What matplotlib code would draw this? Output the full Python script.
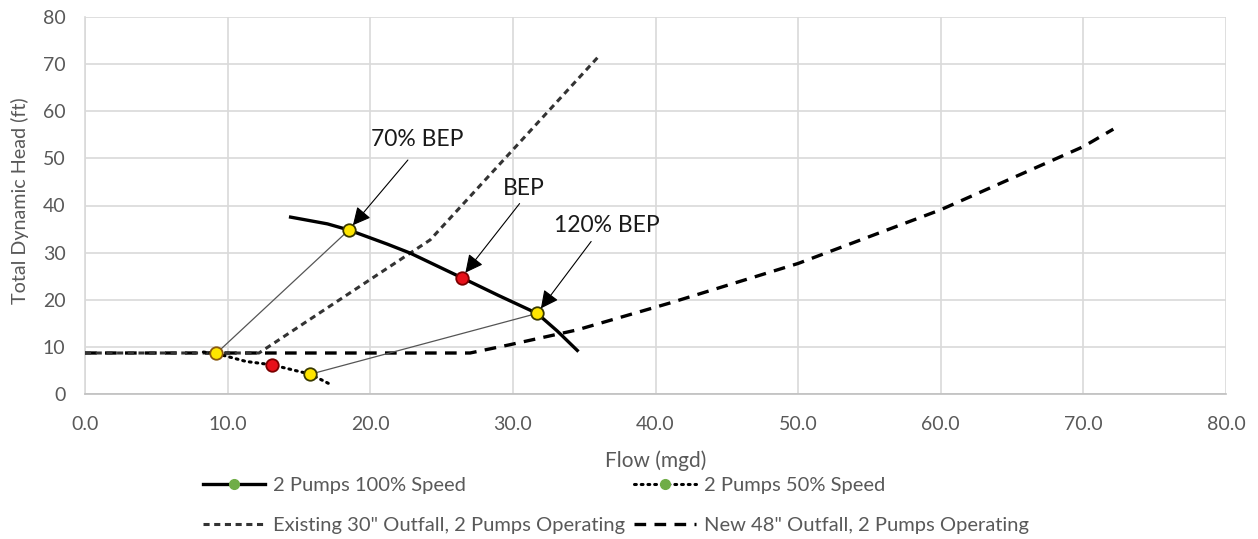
import matplotlib
matplotlib.use("Agg")
import matplotlib.pyplot as plt
from matplotlib.lines import Line2D

# ---- data ----
pump100_q = [14.3, 17.0, 18.5, 21.2, 22.8, 26.4, 29.0, 31.7, 33.1, 34.6]
pump100_h = [37.6, 36.1, 34.8, 31.8, 29.9, 24.7, 20.9, 17.1, 13.4, 9.0]

pump50_q = [8.3, 9.2, 11.3, 13.1, 15.8, 17.3]
pump50_h = [8.9, 8.6, 6.9, 6.2, 4.2, 1.9]

existing_q = [0.0, 12.2, 24.2, 36.0]
existing_h = [8.7, 8.7, 32.7, 71.6]

new_q = [0.0, 27.0, 29.7, 34.5, 41.0, 50.0, 60.0, 70.0, 72.1]
new_h = [8.7, 8.7, 10.4, 13.6, 19.3, 27.7, 39.1, 52.5, 56.2]

# operating points: 70% BEP, BEP, 120% BEP
op_labels = ["70% BEP", "BEP", "120% BEP"]
op100_q = [18.5, 26.4, 31.7]
op100_h = [34.8, 24.7, 17.1]
op50_q = [9.2, 13.1, 15.8]
op50_h = [8.6, 6.2, 4.2]

x_ticks = [0, 10, 20, 30, 40, 50, 60, 70, 80]
y_ticks = [0, 10, 20, 30, 40, 50, 60, 70, 80]

FONT = "Lato"
GRAY = "#595959"
plt.rcParams["font.family"] = [FONT, "DejaVu Sans"]

fig = plt.figure(figsize=(12.58, 5.39), dpi=100)
ax = fig.add_axes([85 / 1258, 1 - 394 / 539, (1226 - 85) / 1258, (394 - 17) / 539])

ax.set_xlim(0, 80)
ax.set_ylim(0, 80)
ax.set_xticks(x_ticks)
ax.set_yticks(y_ticks)
ax.set_xticklabels([f"{v:.1f}" for v in x_ticks])
ax.set_yticklabels([f"{v:d}" for v in y_ticks])
ax.tick_params(length=0, labelsize=14, labelcolor=GRAY)
ax.tick_params(axis="x", pad=16)
ax.tick_params(axis="y", pad=14)
ax.grid(True, color="#D9D9D9", lw=1.2)
ax.set_axisbelow(True)
for s in ["top", "right"]:
    ax.spines[s].set_visible(False)
ax.spines["left"].set_color("#D9D9D9")
ax.spines["bottom"].set_color("#BFBFBF")
ax.spines["left"].set_linewidth(1.2)
ax.spines["bottom"].set_linewidth(1.2)

ax.set_xlabel("Flow (mgd)", fontsize=15, color=GRAY)
ax.set_ylabel("Total Dynamic Head (ft)", fontsize=14.2, color=GRAY)
ax.xaxis.set_label_coords(0.5, (394 - 461) / 377)
ax.xaxis.label.set_va("center")
ax.yaxis.set_label_coords((20 - 85) / 1141, (394 - 201) / 377)
ax.yaxis.label.set_va("center")

# system curves
ax.plot(new_q, new_h, color="black", lw=2.4, dashes=(3.5, 2.5), zorder=3)
ax.plot(existing_q, existing_h, color="#333333", lw=2.2, dashes=(2.0, 1.5), zorder=3)

# pump curves
ax.plot(pump100_q, pump100_h, color="black", lw=2.4, solid_capstyle="butt", zorder=4)
ax.plot(pump50_q, pump50_h, color="black", lw=2.2, dashes=(0.6, 1.6),
        dash_capstyle="round", zorder=4)

# thin connecting lines (70% and 120% BEP points)
for i in (0, 2):
    ax.plot([op50_q[i], op100_q[i]], [op50_h[i], op100_h[i]], color="#555555",
            lw=0.9, zorder=3)

face = ["#FFE600", "#E8101A", "#FFE600"]
edge100 = ["#3A3A00", "#7A0000", "#3A3A00"]
edge50 = ["#8A5A10", "#7A0000", "#3A3A00"]
for i in range(3):
    ax.plot(op100_q[i], op100_h[i], "o", ms=9, mfc=face[i], mec=edge100[i], mew=1.3, zorder=6)
    ax.plot(op50_q[i], op50_h[i], "o", ms=9, mfc=face[i], mec=edge50[i], mew=1.3, zorder=6)

# annotations (offsets in points from the marker)
tails = [(42.5, 50.4), (41.8, 53.3), (38.9, 51.8)]
texts = [(49.0, 65.5), (44.6, 64.5), (50.4, 63.0)]
for i, lab in enumerate(op_labels):
    ax.annotate("", xy=(op100_q[i], op100_h[i]), xytext=tails[i],
                textcoords="offset points",
                arrowprops=dict(arrowstyle="-|>,head_length=0.6,head_width=0.3",
                                color="black", lw=0.8,
                                mutation_scale=18, shrinkA=0, shrinkB=4.5),
                zorder=7)
    ax.annotate(lab, xy=(op100_q[i], op100_h[i]), xytext=texts[i],
                textcoords="offset points", ha="center", va="center",
                fontsize=16.5, color="#1A1A1A", zorder=7)

# legend
green = "#70AD47"
handles = [
    Line2D([], [], color="black", lw=2.4, marker="o", ms=7, mfc=green, mec=green),
    Line2D([], [], color="#333333", lw=2.2, dashes=(2.0, 1.5)),
    Line2D([], [], color="black", lw=2.2, dashes=(0.6, 1.6), dash_capstyle="round",
           marker="o", ms=7, mfc=green, mec=green),
    Line2D([], [], color="black", lw=2.4, dashes=(3.5, 2.5)),
]
labels = [
    "2 Pumps 100% Speed",
    "Existing 30\" Outfall, 2 Pumps Operating",
    "2 Pumps 50% Speed",
    "New 48\" Outfall, 2 Pumps Operating",
]
leg = fig.legend(handles, labels, ncol=2, loc="upper left",
                 bbox_to_anchor=(203 / 1258, 1 - 477 / 539),
                 frameon=False, fontsize=14.5, handlelength=3.1, handletextpad=0.4,
                 columnspacing=0.4, labelspacing=1.15, borderpad=0, borderaxespad=0)
for t in leg.get_texts():
    t.set_color(GRAY)

fig.savefig("out.png", dpi=100)
